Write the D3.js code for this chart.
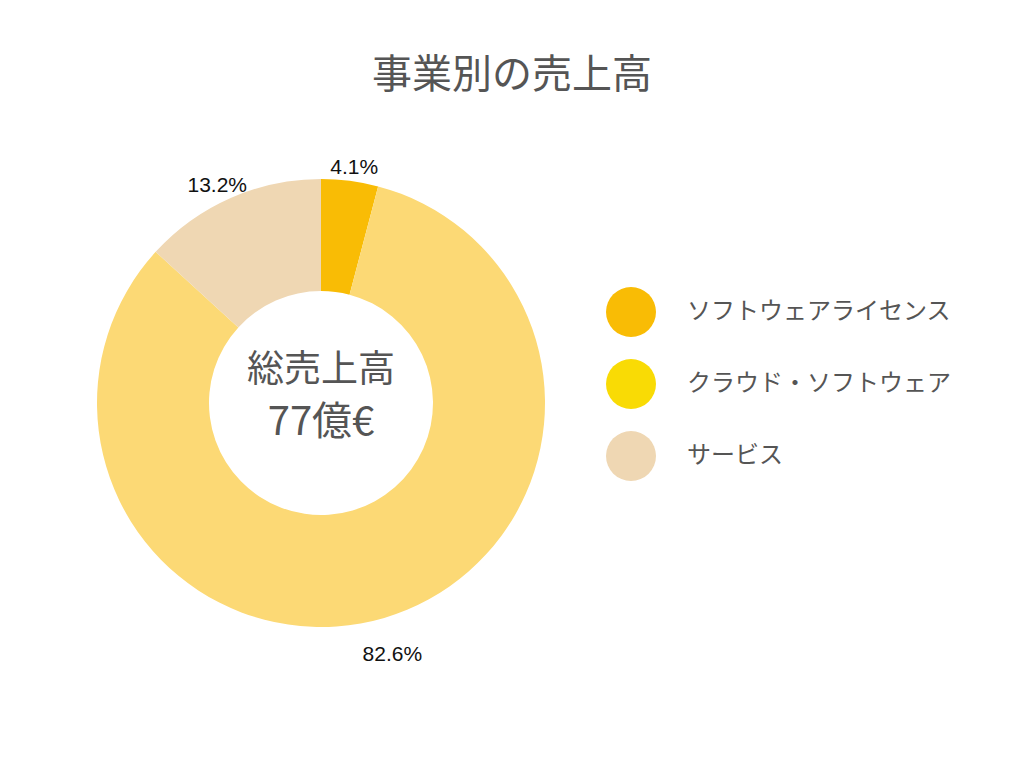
<!DOCTYPE html>
<html><head><meta charset="utf-8">
<script src="https://cdn.jsdelivr.net/npm/d3@7"></script>
<style>body{margin:0;background:#fff}svg{display:block}</style>
</head><body>
<svg id="c" width="1024" height="768"></svg>
<script>
const categories = ["ソフトウェアライセンス", "クラウド・ソフトウェア", "サービス"];
const values = [4.1, 82.6, 13.2];
const sliceColors = ["#F9BC05", "#FCD975", "#EFD7B3"];
const legendColors = ["#F9BC05", "#F9DB05", "#EFD7B3"];
const title = "事業別の売上高";
const centerLines = ["総売上高", "77億€"];

const svg = d3.select("#c");
const cx = 321, cy = 403, R = 224, r = 112;
const jp = "'Noto Sans CJK JP','Noto Sans',sans-serif";

svg.append("text").attr("x", 512).attr("y", 77).attr("text-anchor", "middle")
  .attr("dominant-baseline", "middle").attr("font-family", jp).attr("font-size", 40)
  .attr("fill", "#555").text(title);

const pie = d3.pie().sort(null).value(d => d)(values);
const arc = d3.arc().innerRadius(r).outerRadius(R);
const g = svg.append("g").attr("transform", `translate(${cx},${cy})`);
g.selectAll("path").data(pie).join("path").attr("d", arc)
  .attr("fill", (d, i) => sliceColors[i]);

g.selectAll("text.lbl").data(pie).join("text").attr("class", "lbl")
  .attr("transform", d => {
    const a = (d.startAngle + d.endAngle) / 2;
    const s = Math.sin(a), c = Math.cos(a);
    const lr = 236 + 14 * (1 - c);
    return `translate(${lr * s + 22 * s * Math.max(c, 0) - (c < 0 ? 3 : 0)},${-lr * c})`;
  })
  .attr("text-anchor", "middle").attr("dominant-baseline", "middle")
  .attr("font-family", "'Liberation Sans',Arial,sans-serif").attr("font-size", 21)
  .attr("fill", "#111").text((d, i) => values[i].toFixed(1) + "%");

g.append("text").attr("x", 0).attr("y", -31).attr("text-anchor", "middle")
  .attr("dominant-baseline", "middle").attr("font-family", jp).attr("font-size", 37)
  .attr("fill", "#555").text(centerLines[0]);
g.append("text").attr("x", 0).attr("y", 21).attr("text-anchor", "middle")
  .attr("dominant-baseline", "middle").attr("font-family", jp).attr("font-size", 40)
  .attr("fill", "#555").text(centerLines[1]);

const ly = d3.scalePoint().domain(categories).range([312, 456]);
const lg = svg.append("g");
const items = lg.selectAll("g").data(categories).join("g")
  .attr("transform", d => `translate(631,${ly(d)})`);
items.append("circle").attr("r", 25).attr("fill", (d, i) => legendColors[i]);
items.append("text").attr("x", 56).attr("dominant-baseline", "middle")
  .attr("font-family", jp).attr("font-size", 24).attr("fill", "#555").text(d => d);
</script>
</body></html>
